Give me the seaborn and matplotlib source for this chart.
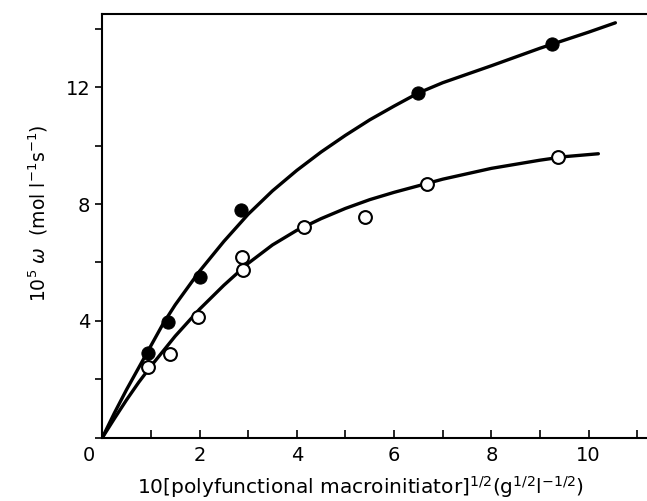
import matplotlib
matplotlib.use("Agg")
import matplotlib.pyplot as plt
import matplotlib.transforms as mtransforms
import seaborn as sns
from matplotlib.ticker import MultipleLocator

# measured points
x_filled = [0.95, 1.35, 2.0, 2.86, 6.5, 9.24]
y_filled = [2.9, 3.95, 5.5, 7.8, 11.8, 13.47]
x_open = [0.95, 1.4, 1.96, 2.87, 2.89, 4.14, 5.4, 6.67, 9.36]
y_open = [2.42, 2.87, 4.15, 6.2, 5.74, 7.2, 7.55, 8.68, 9.6]

# curves
x_up = [0, 0.25, 0.5, 0.75, 1.0, 1.25, 1.5, 2.0, 2.5, 3.0, 3.5, 4.0, 4.5, 5.0, 5.5, 6.0, 6.5, 7.0, 8.0, 9.0, 10.0, 10.55]
y_up = [0, 0.85, 1.65, 2.4, 3.15, 3.9, 4.55, 5.7, 6.72, 7.65, 8.45, 9.15, 9.78, 10.35, 10.88, 11.35, 11.8, 12.15, 12.73, 13.33, 13.88, 14.2]
x_low = [0, 0.25, 0.5, 0.75, 1.0, 1.5, 2.0, 2.5, 3.0, 3.5, 4.0, 4.5, 5.0, 5.5, 6.0, 6.67, 7.0, 8.0, 9.0, 9.5, 10.2]
y_low = [0, 0.66, 1.3, 1.9, 2.45, 3.48, 4.4, 5.22, 5.97, 6.6, 7.1, 7.5, 7.85, 8.15, 8.4, 8.7, 8.85, 9.22, 9.5, 9.62, 9.72]

sns.set_style("ticks")
plt.rcParams['font.family'] = ['DejaVu Sans']
plt.rcParams['text.color'] = 'black'
plt.rcParams['axes.labelcolor'] = 'black'
plt.rcParams['xtick.color'] = 'black'
plt.rcParams['ytick.color'] = 'black'
plt.rcParams['axes.edgecolor'] = 'black'

fig = plt.figure(figsize=(6.47, 5.01), dpi=100)
ax = fig.add_axes([0.158, 0.126, 0.842, 0.846])

sns.lineplot(x=x_up, y=y_up, color="black", lw=2.4, ax=ax, sort=False)
sns.lineplot(x=x_low, y=y_low, color="black", lw=2.4, ax=ax, sort=False)

sns.scatterplot(x=x_filled, y=y_filled, color="black", edgecolor="black", s=90, ax=ax, zorder=5)
sns.scatterplot(x=x_open, y=y_open, color="white", edgecolor="black", linewidth=1.5, s=85, ax=ax, zorder=5)

ax.set_xlim(0, 11.2)
ax.set_ylim(0, 14.5)
ax.set_xticks([0, 2, 4, 6, 8, 10])
ax.set_yticks([4, 8, 12])
ax.xaxis.set_minor_locator(MultipleLocator(1))
ax.yaxis.set_minor_locator(MultipleLocator(2))
ax.tick_params(axis="x", which="both", direction="in", length=6, width=1.2, labelsize=14, pad=6)
ax.tick_params(axis="y", which="both", direction="out", length=5, width=1.2, labelsize=14)
ax.set_xticklabels(["0", "2", "4", "6", "8", "10"])

# origin label sits a bit to the left
lab0 = ax.get_xticklabels()[0]
lab0.set_transform(lab0.get_transform() + mtransforms.ScaledTranslation(-0.13, 0, fig.dpi_scale_trans))

for s in ["left", "bottom", "top"]:
    ax.spines[s].set_linewidth(1.5)
ax.spines["right"].set_visible(False)

ax.set_xlabel(r"10[polyfunctional macroinitiator]$^{1/2}$(g$^{1/2}$l$^{-1/2}$)", fontsize=14.5)
ax.xaxis.set_label_coords(0.475, -0.085)
ax.set_ylabel(r"10$^5$ $\omega$  (mol l$^{-1}$s$^{-1}$)", fontsize=13.5)
ax.yaxis.set_label_coords(-0.095, 0.53)

fig.savefig("out.png", dpi=100)
